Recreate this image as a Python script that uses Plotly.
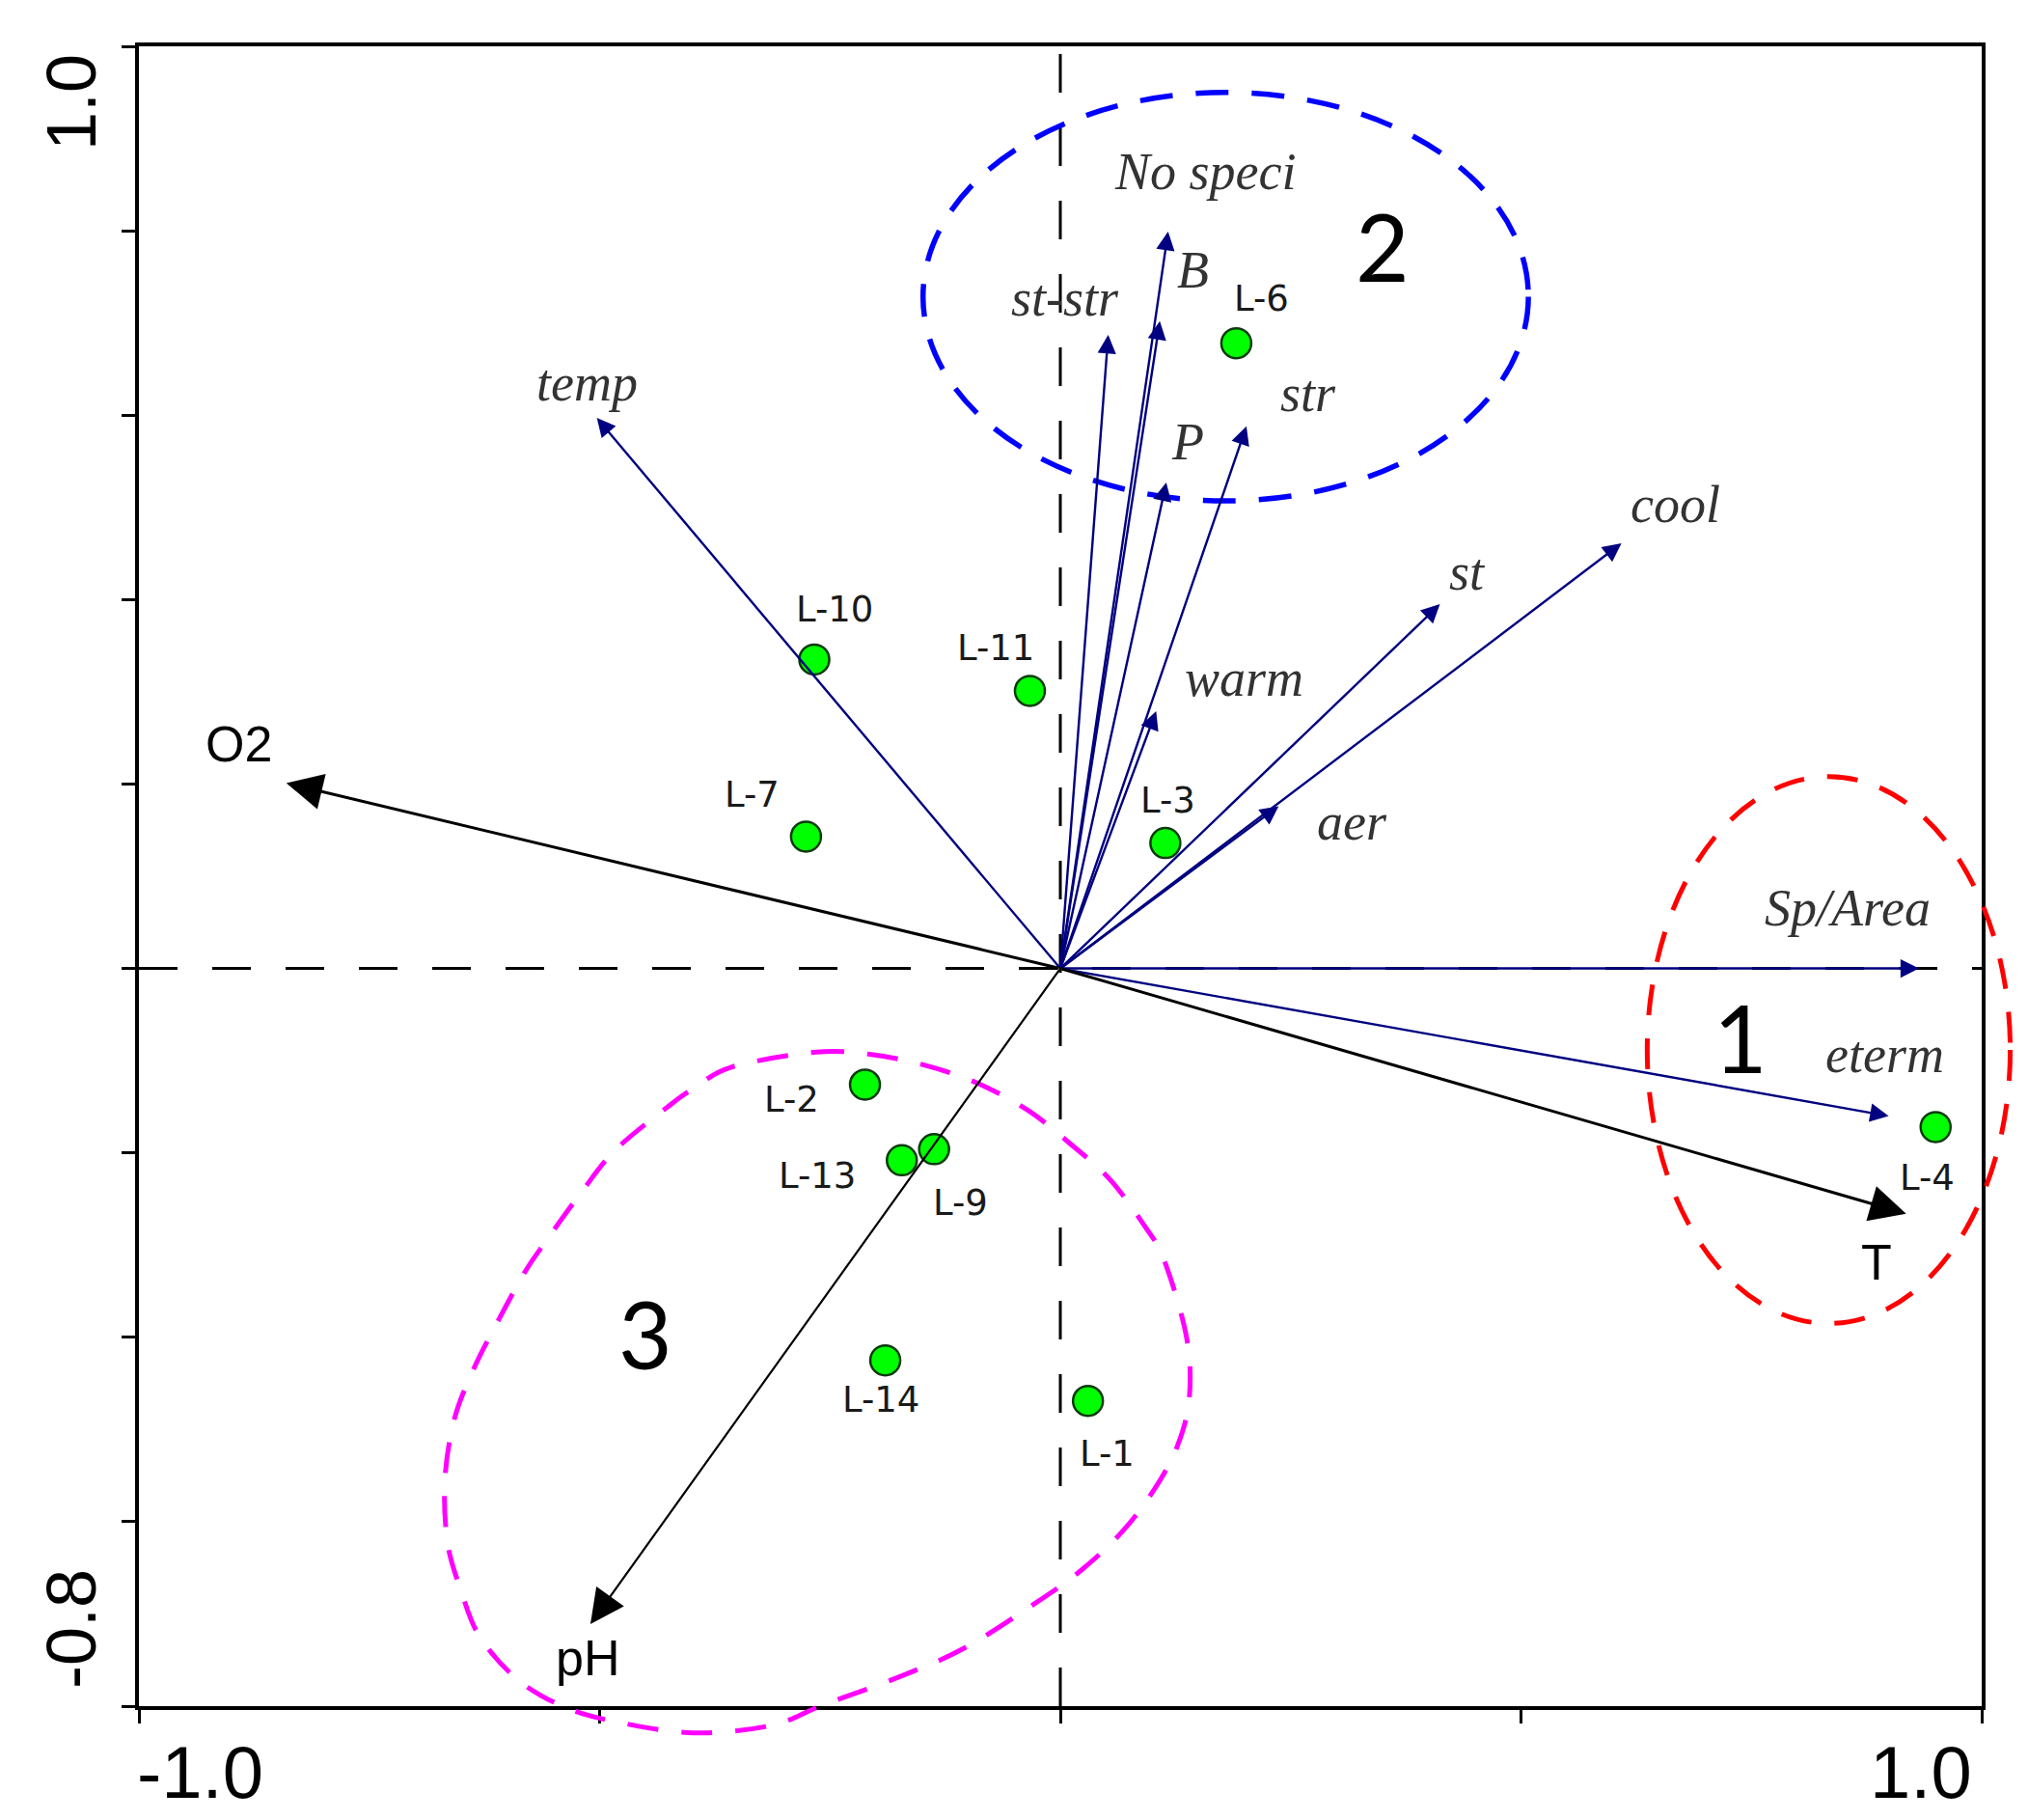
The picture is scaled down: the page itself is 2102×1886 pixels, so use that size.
import plotly.graph_objects as go

# ---------------- data ----------------
site_names = ["L-1", "L-2", "L-3", "L-4", "L-6", "L-7", "L-9", "L-10", "L-11", "L-13", "L-14"]
site_x = [0.030, -0.212, 0.114, 0.950, 0.191, -0.276, -0.137, -0.267, -0.033, -0.172, -0.190]
site_y = [-0.469, -0.126, 0.136, -0.172, 0.678, 0.143, -0.196, 0.335, 0.301, -0.208, -0.425]

species_names = ["temp", "No speci", "B", "st-str", "P", "str", "cool", "st", "warm", "aer", "Sp/Area", "eterm"]
species_x = [-0.503, 0.117, 0.108, 0.052, 0.115, 0.202, 0.609, 0.412, 0.104, 0.237, 0.932, 0.899]
species_y = [0.597, 0.799, 0.702, 0.687, 0.527, 0.588, 0.461, 0.395, 0.279, 0.176, 0.000, -0.160]

env_names = ["O2", "T", "pH"]
env_x = [-0.840, 0.918, -0.510]
env_y = [0.201, -0.266, -0.711]

group_labels = ["1", "2", "3"]
group_label_x = [0.738, 0.350, -0.450]
group_label_y = [-0.074, 0.784, -0.396]

# group outlines (data units)
group1_x = [0.637, 1.031]
group1_y = [-0.385, 0.208]
group2_x = [-0.149, 0.508]
group2_y = [0.507, 0.950]
group3_outline_x = [-0.268, -0.207, -0.147, -0.091, -0.035, 0.013, 0.054, 0.092, 0.113, 0.137,
                    0.140, 0.127, 0.102, 0.067, 0.021, -0.028, -0.104, -0.174, -0.258, -0.314,
                    -0.398, -0.482, -0.538, -0.588, -0.630, -0.651, -0.665, -0.668, -0.658, -0.637,
                    -0.609, -0.581, -0.557, -0.520, -0.482, -0.422, -0.399, -0.357]
group3_outline_y = [-0.091, -0.093, -0.105, -0.124, -0.154, -0.192, -0.229, -0.280, -0.317, -0.400,
                    -0.466, -0.518, -0.565, -0.611, -0.654, -0.689, -0.737, -0.768, -0.799, -0.821,
                    -0.829, -0.817, -0.801, -0.772, -0.725, -0.673, -0.623, -0.556, -0.490, -0.435,
                    -0.380, -0.329, -0.294, -0.243, -0.196, -0.147, -0.131, -0.107]

x_ticks = [-1.0, -0.5, 0.0, 0.5, 1.0]
y_ticks = [-0.8, -0.6, -0.4, -0.2, 0.0, 0.2, 0.4, 0.6, 0.8, 1.0]
x_tick_labels = ["-1.0", "1.0"]
y_tick_labels = ["1.0", "-0.8"]

X_RANGE = [-1.0, 1.0]
Y_RANGE = [-0.8, 1.0]

# ---------------- styles (pixel offsets of labels) ----------------
site_label_offset = {
    "L-10": (21, 52), "L-11": (-35, 44), "L-7": (-56, 43), "L-3": (3, 44),
    "L-2": (-76, -16), "L-13": (-88, -16), "L-9": (27, -56), "L-6": (26, 46),
    "L-14": (-5, -41), "L-1": (20, -55), "L-4": (-9, -53),
}
var_label_offset = {
    "temp": (-10, 36), "No speci": (38, 62), "B": (34, 53), "st-str": (-45, 38),
    "P": (22, 42), "str": (64, 34), "cool": (56, 40), "st": (29, 33),
    "warm": (91, 34), "aer": (76, -17), "Sp/Area": (-74, 63), "eterm": (-4, 63),
    "O2": (-49, 40), "T": (-31, -50), "pH": (-3, -35),
}
env_width = {"O2": 3.0, "T": 3.0, "pH": 2.2}

NAVY = "#000080"


def px(x):
    return (x - X_RANGE[0]) / (X_RANGE[1] - X_RANGE[0])


def py(y):
    return (y - Y_RANGE[0]) / (Y_RANGE[1] - Y_RANGE[0])


def smooth_closed_path(xs, ys):
    pts = [(px(a), py(b)) for a, b in zip(xs, ys)]
    n = len(pts)
    d = f"M {pts[0][0]:.5f},{pts[0][1]:.5f}"
    for i in range(n):
        p0 = pts[(i - 1) % n]
        p1 = pts[i]
        p2 = pts[(i + 1) % n]
        p3 = pts[(i + 2) % n]
        c1 = (p1[0] + (p2[0] - p0[0]) / 6, p1[1] + (p2[1] - p0[1]) / 6)
        c2 = (p2[0] - (p3[0] - p1[0]) / 6, p2[1] - (p3[1] - p1[1]) / 6)
        d += f" C {c1[0]:.5f},{c1[1]:.5f} {c2[0]:.5f},{c2[1]:.5f} {p2[0]:.5f},{p2[1]:.5f}"
    return d + " Z"


fig = go.Figure()

# site points
fig.add_trace(go.Scatter(
    x=site_x, y=site_y, mode="markers",
    marker=dict(size=31, color="#00FF00", line=dict(color="#0b3b0b", width=2.5)),
    hoverinfo="text", text=site_names, showlegend=False,
))

annotations = []
shapes = []

# zero lines
shapes.append(dict(type="line", xref="paper", yref="y", x0=0, x1=1, y0=0, y1=0,
                   line=dict(color="black", width=3, dash="40px,36px"), layer="below"))
shapes.append(dict(type="line", xref="x", yref="paper", x0=0, x1=0, y0=0, y1=1,
                   line=dict(color="black", width=3, dash="40px,36px"), layer="below"))

# group outlines
shapes.append(dict(type="circle", xref="paper", yref="paper",
                   x0=px(group2_x[0]), x1=px(group2_x[1]), y0=py(group2_y[0]), y1=py(group2_y[1]),
                   line=dict(color="#0000FF", width=5.5, dash="34px,24px")))
shapes.append(dict(type="circle", xref="paper", yref="paper",
                   x0=px(group1_x[0]), x1=px(group1_x[1]), y0=py(group1_y[0]), y1=py(group1_y[1]),
                   line=dict(color="#FF0000", width=5, dash="32px,24px")))
shapes.append(dict(type="path", xref="paper", yref="paper",
                   path=smooth_closed_path(group3_outline_x, group3_outline_y),
                   line=dict(color="#FF00FF", width=5, dash="32px,24px")))

# species arrows
for name, x, y in zip(species_names, species_x, species_y):
    annotations.append(dict(x=x, y=y, ax=0, ay=0, xref="x", yref="y", axref="x", ayref="y",
                            text="", showarrow=True, arrowhead=2, arrowsize=1.6,
                            arrowwidth=2.4, arrowcolor=NAVY))
    dx, dy = var_label_offset[name]
    annotations.append(dict(x=x, y=y, xref="x", yref="y", text=name, showarrow=False,
                            xshift=dx, yshift=dy,
                            font=dict(family="Liberation Serif, Times New Roman, serif", size=54,
                                      color="#333333", style="italic")))

# environmental arrows
for name, x, y in zip(env_names, env_x, env_y):
    w = env_width[name]
    annotations.append(dict(x=x, y=y, ax=0, ay=0, xref="x", yref="y", axref="x", ayref="y",
                            text="", showarrow=True, arrowhead=2, arrowsize=2.5 if w > 2.5 else 3.2,
                            arrowwidth=w, arrowcolor="black"))
    dx, dy = var_label_offset[name]
    annotations.append(dict(x=x, y=y, xref="x", yref="y", text=name, showarrow=False,
                            xshift=dx, yshift=dy,
                            font=dict(family="Liberation Sans, Arial, sans-serif", size=52, color="black")))

# site labels
for name, x, y in zip(site_names, site_x, site_y):
    dx, dy = site_label_offset[name]
    annotations.append(dict(x=x, y=y, xref="x", yref="y", text=name, showarrow=False,
                            xshift=dx, yshift=dy,
                            font=dict(family="DejaVu Sans, Verdana, sans-serif", size=37, color="#1a1a1a")))

# group numbers
for name, x, y in zip(group_labels, group_label_x, group_label_y):
    annotations.append(dict(x=x, y=y, xref="x", yref="y", text=name, showarrow=False,
                            font=dict(family="Lato, Open Sans, sans-serif", size=96, color="black")))

# axis end labels
tick_font_x = dict(family="Liberation Sans Narrow, Arial Narrow, Liberation Sans, sans-serif", size=76, color="black")
tick_font_y = dict(family="Liberation Sans, Arial, sans-serif", size=72, color="black")
annotations.append(dict(x=x_ticks[0], y=0, xref="x", yref="paper", text=x_tick_labels[0], showarrow=False,
                        xanchor="left", yanchor="top", yshift=-24, xshift=-4, font=tick_font_x))
annotations.append(dict(x=x_ticks[-1], y=0, xref="x", yref="paper", text=x_tick_labels[1], showarrow=False,
                        xanchor="right", yanchor="top", yshift=-24, xshift=-8, font=tick_font_x))
annotations.append(dict(x=0, y=y_ticks[-1], xref="paper", yref="y", text=y_tick_labels[0], showarrow=False,
                        xanchor="center", yanchor="middle",
                        textangle=-90, xshift=-70, yshift=-58, font=tick_font_y))
annotations.append(dict(x=0, y=y_ticks[0], xref="paper", yref="y", text=y_tick_labels[1], showarrow=False,
                        xanchor="center", yanchor="middle",
                        textangle=-90, xshift=-70, yshift=80, font=tick_font_y))

axis_common = dict(showgrid=False, zeroline=False, showline=True, linecolor="black", linewidth=3.5,
                   mirror=True, ticks="outside", ticklen=14, tickwidth=3, tickcolor="black",
                   showticklabels=False)

fig.update_layout(
    width=2102, height=1886,
    margin=dict(l=136, r=56, t=40, b=126),
    paper_bgcolor="white", plot_bgcolor="white",
    xaxis=dict(range=X_RANGE, tickvals=x_ticks, **axis_common),
    yaxis=dict(range=Y_RANGE, tickvals=y_ticks, **axis_common),
    shapes=shapes, annotations=annotations,
    showlegend=False,
)

fig.write_html("out.html")
